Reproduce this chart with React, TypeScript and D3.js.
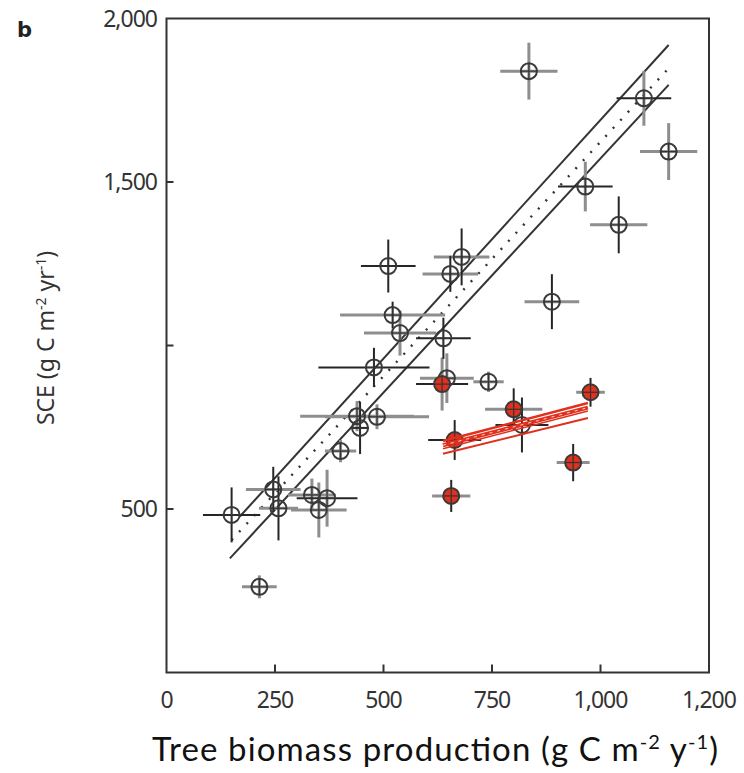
import React from 'react';
import * as d3 from 'd3';

const xTickValues = [0, 250, 500, 750, 1000, 1250];
const xTickLabels = ['0', '250', '500', '750', '1,000', '1,200'];
const yTickValues = [500, 1000, 1500, 2000];
const yTickLabels = ['500', '', '1,500', '2,000'];

// open (hollow) sites
const openX = [150, 214, 246, 258, 335, 370, 351, 401, 439, 446, 485, 478, 511, 521, 538, 638, 654, 680, 646, 742, 819, 835, 888, 965, 1042, 1100, 1157];
const openY = [482, 262, 560, 502, 543, 533, 497, 677, 784, 748, 782, 933, 1243, 1093, 1038, 1022, 1219, 1271, 900, 889, 757, 1839, 1134, 1486, 1369, 1756, 1593];
const openXErr = [66, 40, 63, 45, 55, 70, 64, 36, 131, 20, 120, 128, 63, 121, 83, 63, 64, 64, 62, 35, 61, 66, 63, 63, 66, 63, 66];
const openYErr = [84, 35, 69, 98, 50, 87, 84, 34, 46, 80, 38, 60, 81, 41, 69, 63, 55, 87, 76, 31, 84, 87, 84, 76, 87, 84, 87];
const openXTone = ['k', 'g', 'g', 'g', 'g', 'k', 'g', 'g', 'g', 'k', 'g', 'k', 'k', 'g', 'g', 'k', 'g', 'g', 'g', 'g', 'k', 'g', 'g', 'k', 'g', 'k', 'g'];
const openYTone = ['k', 'g', 'k', 'k', 'g', 'g', 'g', 'g', 'g', 'k', 'g', 'k', 'k', 'k', 'g', 'k', 'k', 'k', 'g', 'g', 'k', 'g', 'k', 'g', 'k', 'g', 'g'];

// red (filled) sites
const redX = [635, 664, 656, 800, 937, 977];
const redY = [882, 711, 540, 805, 642, 857];
const redXErr = [60, 61, 44, 66, 38, 33];
const redYErr = [81, 61, 49, 64, 57, 44];
const redXTone = ['k', 'k', 'g', 'g', 'g', 'g'];
const redYTone = ['g', 'k', 'k', 'k', 'k', 'k'];

// regression band (black)
const fitUpperX = [169, 1157];
const fitUpperY = [477, 1919];
const fitLowerX = [146, 1157];
const fitLowerY = [349, 1797];
const fitMidX = [150, 1153];
const fitMidY = [405, 1842];

// red regression band
const redFitX = [637, 971];
const redFitTopY = [708, 824];
const redFitMainY = [695, 810];
const redFitInnerY = [684, 800];
const redFitLowY = [669, 778];

const W = 744;
const H = 773;
const x = d3.scaleLinear().domain([0, 1250]).range([166.5, 709]);
const y = d3.scaleLinear().domain([0, 2000]).range([672.5, 18.5]);

const BLACK = '#262626';
const GREY = '#8e8e8e';
const RED = '#e0301e';
const TICKFONT = "'Noto Sans', sans-serif";

const lineGen = d3.line<[number, number]>().x(d => x(d[0])).y(d => y(d[1]));
const seg = (xs: number[], ys: number[]) => lineGen(xs.map((v, i) => [v, ys[i]] as [number, number])) || '';

type Pt = { x: number; y: number; xe: number; ye: number; xt: string; yt: string; red: boolean };

const points: Pt[] = [
  ...openX.map((v, i) => ({ x: v, y: openY[i], xe: openXErr[i], ye: openYErr[i], xt: openXTone[i], yt: openYTone[i], red: false })),
  ...redX.map((v, i) => ({ x: v, y: redY[i], xe: redXErr[i], ye: redYErr[i], xt: redXTone[i], yt: redYTone[i], red: true })),
];

export default function App() {
  const R = 8;
  const toneColor = (t: string) => (t === 'k' ? BLACK : GREY);
  const toneWidth = (t: string) => (t === 'k' ? 2 : 3);
  const bars: React.ReactNode[] = [];
  ['g', 'k'].forEach(tone => {
    points.forEach((p, i) => {
      if (p.xt === tone)
        bars.push(
          <line key={`h${tone}${i}`} x1={x(p.x - p.xe)} x2={x(p.x + p.xe)} y1={y(p.y)} y2={y(p.y)} stroke={toneColor(tone)} strokeWidth={toneWidth(tone)} />
        );
      if (p.yt === tone)
        bars.push(
          <line key={`v${tone}${i}`} x1={x(p.x)} x2={x(p.x)} y1={y(p.y - p.ye)} y2={y(p.y + p.ye)} stroke={toneColor(tone)} strokeWidth={toneWidth(tone)} />
        );
    });
  });

  return (
    <svg width={W} height={H} style={{ position: 'absolute', left: 0, top: 0, background: '#fff' }}>
      <rect x={0} y={0} width={W} height={H} fill="#fff" />
      {/* panel letter */}
      <text x={17} y={37} fontFamily="'DejaVu Sans', sans-serif" fontWeight="bold" fontSize={21} fill="#222">b</text>

      {/* black fit lines */}
      <path d={seg(fitUpperX, fitUpperY)} stroke="#333" strokeWidth={2} fill="none" />
      <path d={seg(fitLowerX, fitLowerY)} stroke="#333" strokeWidth={2} fill="none" />
      <path d={seg(fitMidX, fitMidY)} stroke="#333" strokeWidth={2.4} strokeDasharray="2 9" fill="none" />

      {/* error bars */}
      {bars}

      {/* markers */}
      {points.map((p, i) => (
        <g key={`m${i}`}>
          <circle cx={x(p.x)} cy={y(p.y)} r={R} fill={p.red ? RED : 'none'} stroke="#3a3a3a" strokeWidth={2} />
          <line x1={x(p.x) - R} x2={x(p.x) + R} y1={y(p.y)} y2={y(p.y)} stroke="#333" strokeWidth={1.2} />
          <line x1={x(p.x)} x2={x(p.x)} y1={y(p.y) - R} y2={y(p.y) + R} stroke="#333" strokeWidth={1.2} />
        </g>
      ))}

      {/* red fit band */}
      <path d={seg(redFitX, redFitTopY)} stroke={RED} strokeWidth={2.5} fill="none" />
      <path d={seg(redFitX, redFitMainY)} stroke={RED} strokeWidth={4} fill="none" />
      <path d={seg(redFitX, redFitMainY)} stroke="#fff" strokeWidth={0.8} strokeDasharray="3 5" fill="none" />
      <path d={seg(redFitX, redFitInnerY)} stroke={RED} strokeWidth={1.5} fill="none" />
      <path d={seg(redFitX, redFitLowY)} stroke={RED} strokeWidth={2} fill="none" />

      {/* frame */}
      <rect x={x(0)} y={y(2000)} width={x(1250) - x(0)} height={y(0) - y(2000)} fill="none" stroke="#333" strokeWidth={2} />

      {/* x ticks */}
      {xTickValues.map((v, i) => (
        <g key={`xt${i}`}>
          {v > 0 && v < 1250 && <line x1={x(v)} x2={x(v)} y1={y(0)} y2={y(0) - 8} stroke="#333" strokeWidth={2} />}
          <text x={x(v)} y={708} textAnchor="middle" fontFamily={TICKFONT} fontSize={23} letterSpacing={-1} fill="#333">{xTickLabels[i]}</text>
        </g>
      ))}

      {/* y ticks */}
      {yTickValues.map((v, i) => (
        <g key={`yt${i}`}>
          {v < 2000 && <line x1={x(0)} x2={x(0) + 7} y1={y(v)} y2={y(v)} stroke="#333" strokeWidth={2} />}
          <text x={157} y={y(v) + 8} textAnchor="end" fontFamily={TICKFONT} fontSize={23} letterSpacing={-1} fill="#333">{yTickLabels[i]}</text>
        </g>
      ))}

      {/* y title */}
      <text transform="translate(54,338) rotate(-90)" textAnchor="middle" fontFamily={TICKFONT} fontSize={23} fill="#333">
        SCE (g C m<tspan dy={-8} fontSize={14}>-2</tspan><tspan dy={8}> yr</tspan><tspan dy={-8} fontSize={14}>-1</tspan><tspan dy={8}>)</tspan>
      </text>

      {/* x title */}
      <text x={435} y={761} textAnchor="middle" fontFamily="Lato, sans-serif" fontSize={33} textLength={566} lengthAdjust="spacing" fill="#111">
        Tree biomass production (g C m<tspan dy={-12} fontSize={20}>-2</tspan><tspan dy={12}> y</tspan><tspan dy={-12} fontSize={20}>-1</tspan><tspan dy={12}>)</tspan>
      </text>
    </svg>
  );
}
